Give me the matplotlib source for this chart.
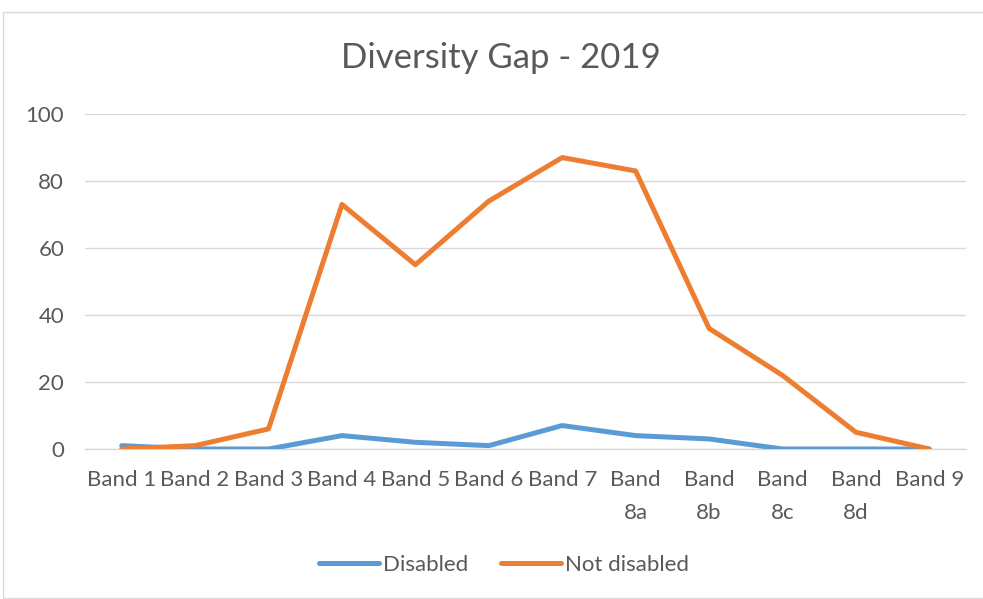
import matplotlib
matplotlib.use("Agg")
import matplotlib.pyplot as plt
from matplotlib.patches import Rectangle

categories = ["Band 1", "Band 2", "Band 3", "Band 4", "Band 5", "Band 6", "Band 7",
              "Band\n8a", "Band\n8b", "Band\n8c", "Band\n8d", "Band 9"]
disabled = [1, 0, 0, 4, 2, 1, 7, 4, 3, 0, 0, 0]
not_disabled = [0, 1, 6, 73, 55, 74, 87, 83, 36, 22, 5, 0]
yticks = [0, 20, 40, 60, 80, 100]

plt.rcParams['font.family'] = ['Lato', 'DejaVu Sans']
gray = '#595959'

fig = plt.figure(figsize=(9.83, 5.99), dpi=100)
ax = fig.add_axes([85/983, 150/599, 881/983, 335/599])

x = list(range(len(categories)))
ax.plot(x, disabled, color='#5B9BD5', lw=3.6, solid_capstyle='round', solid_joinstyle='round', label='Disabled', zorder=3)
ax.plot(x, not_disabled, color='#ED7D31', lw=3.6, solid_capstyle='round', solid_joinstyle='round', label='Not disabled', zorder=4)

ax.set_xlim(-0.5, len(categories) - 0.5)
ax.set_ylim(0, 100)
ax.set_yticks(yticks)
ax.set_xticks(x)
ax.set_xticklabels(categories, fontsize=16, color=gray, linespacing=1.8, va='top')
ax.tick_params(axis='y', labelsize=16, labelcolor=gray, length=0, pad=15)
ax.tick_params(axis='x', length=0, pad=15)
ax.grid(axis='y', color='#d9d9d9', lw=1)
ax.set_axisbelow(True)
for s in ['top', 'right', 'left']:
    ax.spines[s].set_visible(False)
ax.spines['bottom'].set_color('#d9d9d9')
ax.spines['bottom'].set_linewidth(1)
ax.spines['bottom'].set_zorder(1)

fig.text(501/983, 1 - 58/599, "Diversity Gap - 2019", ha='center', va='center', fontsize=25, color=gray)

leg = fig.legend(loc='center', bbox_to_anchor=(504/983, 1 - 565/599), ncol=2, frameon=False,
                 fontsize=16, handlelength=2.7, handletextpad=0.15, columnspacing=1.5)
for t in leg.get_texts():
    t.set_color(gray)

fig.patches.append(Rectangle((3/983, 0.002), 1.2, 1 - 12/599 - 0.002, transform=fig.transFigure,
                             fill=False, edgecolor='#d9d9d9', lw=1))

fig.savefig('out.png', dpi=100)
